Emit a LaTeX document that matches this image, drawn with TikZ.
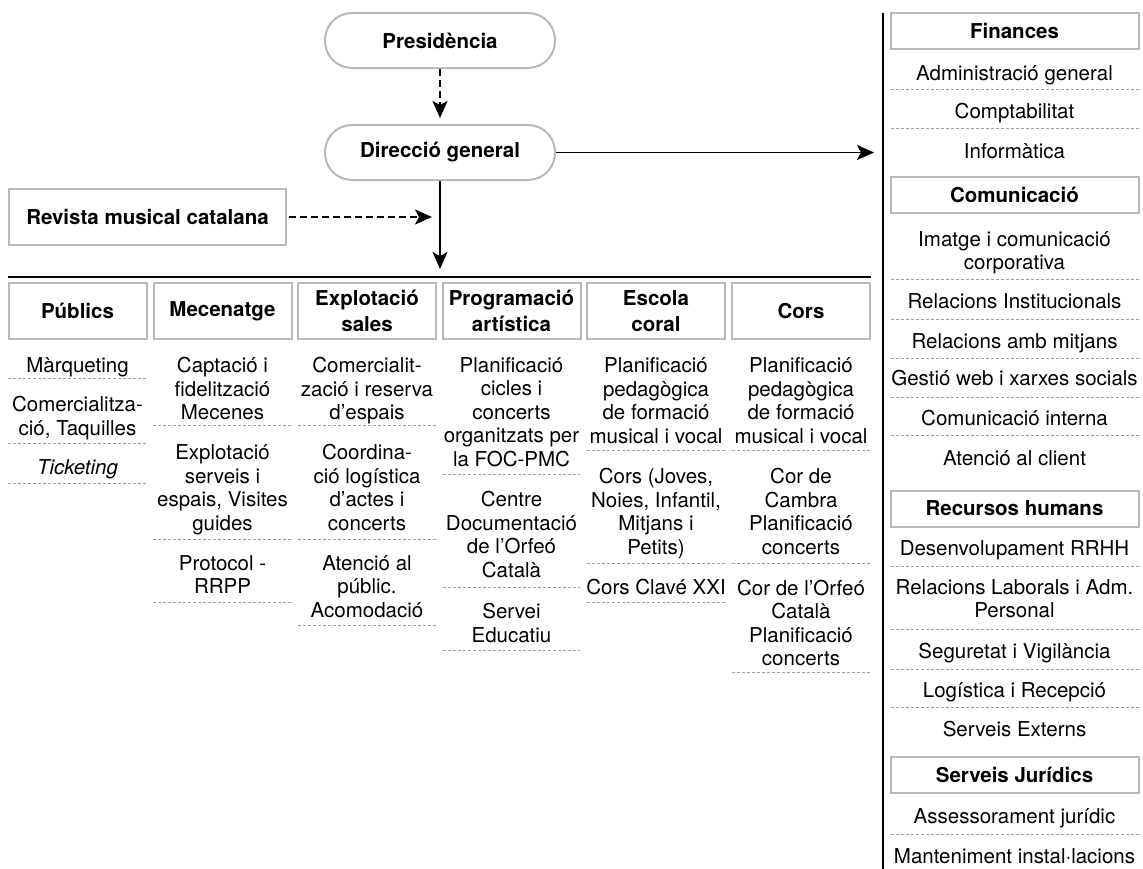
\documentclass[tikz,border=0pt]{standalone}
\usepackage{fontspec}
\setmainfont{TeX Gyre Heros}
\usetikzlibrary{arrows.meta}
\definecolor{boxgray}{gray}{0.72}
\definecolor{sepgray}{gray}{0.62}
\tikzset{
  every node/.style={inner sep=0pt, font=\fontsize{20.5}{23.5}\selectfont},
  pill/.style={draw=boxgray, line width=2pt, rounded corners=27pt, minimum width=230pt, minimum height=55pt, font=\fontsize{20.5}{24}\selectfont\bfseries},
  revbox/.style={draw=boxgray, line width=2pt, minimum width=277pt, minimum height=56pt, font=\fontsize{20.5}{24}\selectfont\bfseries},
  colhdr/.style={draw=boxgray, line width=2pt, fill=white, minimum width=138pt, minimum height=56pt, align=center, font=\fontsize{20.5}{25.5}\selectfont\bfseries},
  righthdr/.style={draw=boxgray, line width=2pt, fill=white, minimum width=248pt, minimum height=36pt, font=\fontsize{20.5}{24}\selectfont\bfseries},
  item/.style={align=center, execute at begin node=\strut, execute at end node=\strut},
  sep/.style={draw=sepgray, line width=0.9pt, dash pattern=on 3pt off 2pt},
  arr/.style={line width=1.6pt, -{Stealth[length=17pt,width=15pt,inset=4pt]}},
  dasharr/.style={arr, dash pattern=on 7pt off 4pt},
  rule/.style={line width=2pt}
}
\begin{document}
\begin{tikzpicture}[x=1pt,y=-1pt]
\useasboundingbox (0,0) rectangle (1143,868);

% top part
\node[pill] (pres) at (440,40.5) {Presidència};
\node[pill] (dir) at (440,152.5) {Direcció general};
\node[revbox] (rev) at (147.5,217) {Revista musical catalana};
\coordinate (revtip) at (432,217);
\coordinate (dirdown) at (440,269);
\coordinate (dirright) at (874,152.5);
\draw[dasharr, shorten >=6pt] (pres) -- (dir);
\draw[arr] (dir) -- (dirdown);
\draw[arr] (dir) -- (dirright);
\draw[dasharr, shorten <=2pt] (rev) -- (revtip);

\coordinate (hl0) at (8,277);
\coordinate (hl1) at (871,277);
\coordinate (vl0) at (883,13);
\coordinate (vl1) at (883,870);
\draw[rule] (hl0) -- (hl1);
\draw[rule] (vl0) -- (vl1);

% column headers
\node[colhdr] (hPub) at (77.5,311) {Públics};
\node[colhdr] (hMec) at (222.5,311) {Mecenatge};
\node[colhdr] (hExp) at (367,311) {Explotació\\sales};
\node[colhdr] (hPro) at (511.5,311) {Programació\\artística};
\node[colhdr] (hEsc) at (656,311) {Escola\\coral};
\node[colhdr] (hCor) at (801,311) {Cors};

% Públics
\node[item] (pub1) at (77.5,368) {Màrqueting};
\draw[sep] (8,378) -- (147,378);
\node[item] (pub2) at (77.5,419.5) {Comercialitza-\\ció, Taquilles};
\draw[sep] (8,443) -- (147,443);
\node[item] (pub3) at (77.5,470) {\itshape Ticketing};
\draw[sep] (8,483) -- (147,483);

% Mecenatge
\node[item] (mec1) at (222.5,392) {Captació i\\fidelització\\Mecenes};
\draw[sep] (153,425) -- (292,425);
\node[item] (mec2) at (222.5,491) {Explotació\\serveis i\\espais, Visites\\guides};
\draw[sep] (153,539) -- (292,539);
\node[item] (mec3) at (222.5,578) {Protocol -\\RRPP};
\draw[sep] (153,602) -- (292,602);

% Explotació sales
\node[item] (exp1) at (367,392) {Comercialit-\\zació i reserva\\d’espais};
\draw[sep] (298,425) -- (436,425);
\node[item] (exp2) at (367,491) {Coordina-\\ció logística\\d’actes i\\concerts};
\draw[sep] (298,539) -- (436,539);
\node[item] (exp3) at (367,590) {Atenció al\\públic.\\Acomodació};
\draw[sep] (298,625) -- (436,625);

% Programació artística
\node[item] (pro1) at (511.5,415.5) {Planificació\\cicles i\\concerts\\organitzats per\\la FOC-PMC};
\draw[sep] (443,474) -- (580,474);
\node[item] (pro2) at (511.5,538) {Centre\\Documentació\\de l’Orfeó\\Català};
\draw[sep] (443,587) -- (580,587);
\node[item] (pro3) at (511.5,626.5) {Servei\\Educatiu};
\draw[sep] (443,650) -- (580,650);

% Escola coral
\node[item] (esc1) at (656,404) {Planificació\\pedagògica\\de formació\\musical i vocal};
\draw[sep] (587,450) -- (725,450);
\node[item] (esc2) at (656,515) {Cors (Joves,\\Noies, Infantil,\\Mitjans i\\Petits)};
\draw[sep] (587,563) -- (725,563);
\node[item] (esc3) at (656,590) {Cors Clavé XXI};
\draw[sep] (587,602) -- (725,602);

% Cors
\node[item] (cor1) at (801,404) {Planificació\\pedagògica\\de formació\\musical i vocal};
\draw[sep] (732,450) -- (870,450);
\node[item] (cor2) at (801,515) {Cor de\\Cambra\\Planificació\\concerts};
\draw[sep] (732,563) -- (870,563);
\node[item] (cor3) at (801,626.5) {Cor de l’Orfeó\\Català\\Planificació\\concerts};
\draw[sep] (732,672) -- (870,672);

% right column
\node[righthdr] (hFin) at (1014.5,30.5) {Finances};
\node[item] (fin1) at (1014.5,76) {Administració general};
\draw[sep] (891,89) -- (1139,89);
\node[item] (fin2) at (1014.5,114) {Comptabilitat};
\draw[sep] (891,128) -- (1139,128);
\node[item] (fin3) at (1014.5,154) {Informàtica};

\node[righthdr] (hCom) at (1014.5,195) {Comunicació};
\node[item] (com1) at (1014.5,254) {Imatge i comunicació\\corporativa};
\draw[sep] (891,279) -- (1139,279);
\node[item] (com2) at (1014.5,304) {Relacions Institucionals};
\draw[sep] (891,319) -- (1139,319);
\node[item] (com3) at (1014.5,344) {Relacions amb mitjans};
\draw[sep] (891,358) -- (1139,358);
\node[item] (com4) at (1014.5,381) {Gestió web i xarxes socials};
\draw[sep] (891,397) -- (1139,397);
\node[item] (com5) at (1014.5,421) {Comunicació interna};
\draw[sep] (891,435) -- (1139,435);
\node[item] (com6) at (1014.5,461) {Atenció al client};

\node[righthdr] (hRH) at (1014.5,508.5) {Recursos humans};
\node[item] (rh1) at (1014.5,551) {Desenvolupament RRHH};
\draw[sep] (891,566) -- (1139,566);
\node[item] (rh2) at (1014.5,602) {Relacions Laborals i Adm.\\Personal};
\draw[sep] (891,629) -- (1139,629);
\node[item] (rh3) at (1014.5,654) {Seguretat i Vigilància};
\draw[sep] (891,669) -- (1139,669);
\node[item] (rh4) at (1014.5,693) {Logística i Recepció};
\draw[sep] (891,707) -- (1139,707);
\node[item] (rh5) at (1014.5,732) {Serveis Externs};

\node[righthdr] (hSJ) at (1014.5,775) {Serveis Jurídics};
\node[item] (sj1) at (1014.5,819) {Assessorament jurídic};
\draw[sep] (891,834) -- (1139,834);
\node[item] (sj2) at (1014.5,859) {Manteniment instal·lacions};
\end{tikzpicture}
\end{document}
